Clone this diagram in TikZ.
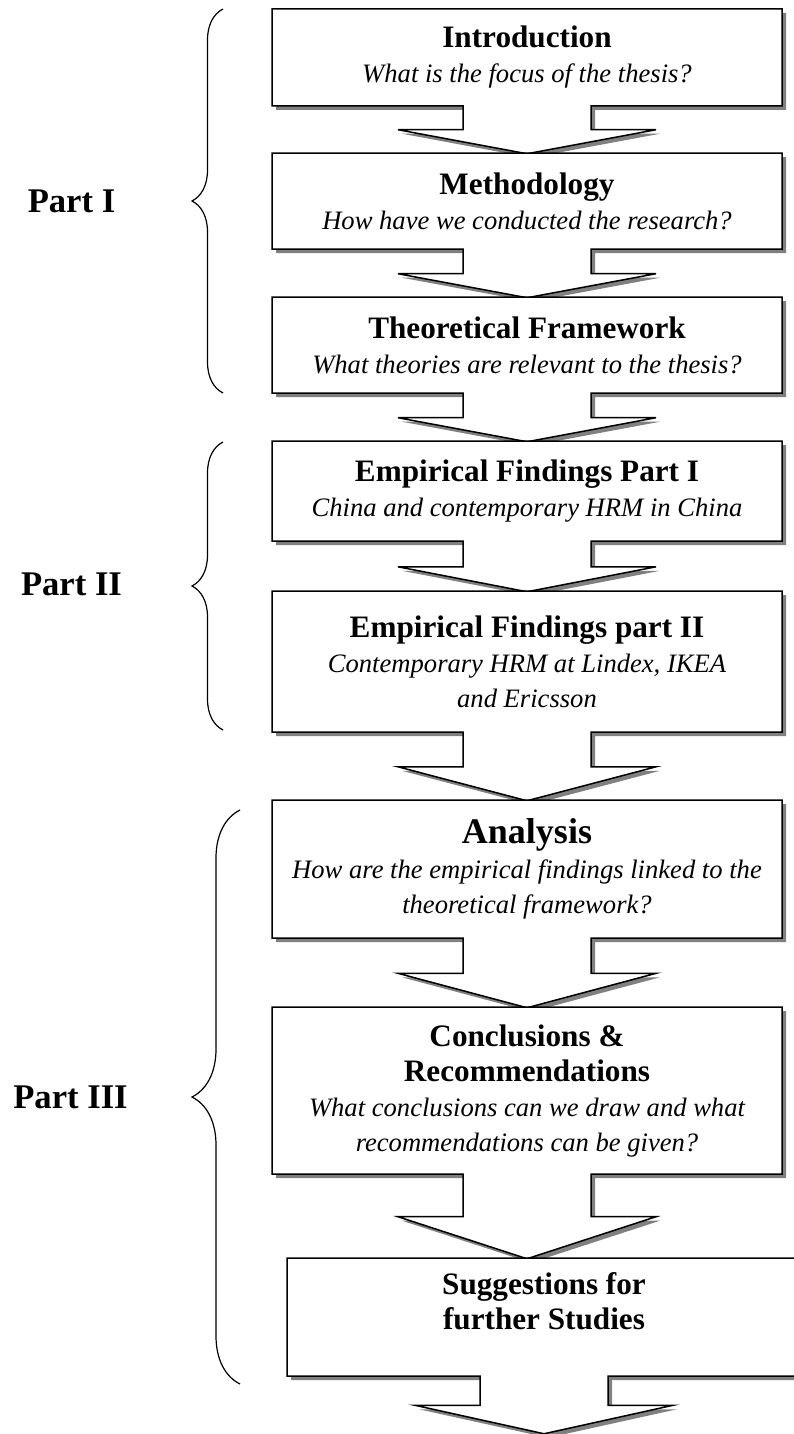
\documentclass[tikz,border=0pt]{standalone}
\usepackage{fontspec}
\setmainfont{Liberation Serif}
\usepackage{tikz}
\usetikzlibrary{shapes.arrows, shadows, decorations.pathreplacing}

\newcommand{\stagetitle}{\fontsize{15.6}{17.5}\selectfont\bfseries}
\newcommand{\bigtitle}{\fontsize{18}{17.5}\selectfont\bfseries}
\newcommand{\stagequestion}{\fontsize{13.3}{17.5}\selectfont\mdseries\itshape}

\tikzset{
    stage/.style={arrow box, draw=black, line width=0.75pt, fill=white,
        minimum width=255pt, inner sep=0pt, align=center,
        font=\fontsize{13.3}{17.5}\selectfont,
        arrow box shaft width=64pt, arrow box head extend=32.5pt,
        drop shadow={shadow xshift=2pt, shadow yshift=-2pt, fill=black!50, opacity=1}},
    partlabel/.style={anchor=base, font=\fontsize{17.3}{20}\selectfont\bfseries},
    partbrace/.style={decorate, decoration={brace, amplitude=#1}, line width=0.6pt}
}

\begin{document}
\begin{tikzpicture}[x=0.5pt, y=-0.5pt]
    \useasboundingbox (0, 0) rectangle (793, 1434);
    \node[stage, minimum height=48.5pt, arrow box arrows={south:23.5pt}, arrow box tip angle=158.9] (intro) at (527, 57.5)
        {\stagetitle Introduction\\ \stagequestion What is the focus of the thesis?};
    \node[stage, minimum height=48pt, arrow box arrows={south:24pt}, arrow box tip angle=158.9] (method) at (527, 201)
        {\stagetitle Methodology\\ \stagequestion How have we conducted the research?};
    \node[stage, minimum height=48pt, arrow box arrows={south:24pt}, arrow box tip angle=158.9] (theory) at (527, 345)
        {\stagetitle Theoretical Framework\\ \stagequestion What theories are relevant to the thesis?};
    \node[stage, minimum height=50pt, arrow box arrows={south:25pt}, arrow box tip angle=158.1] (empone) at (527, 491)
        {\stagetitle Empirical Findings Part I\\ \stagequestion China and contemporary HRM in China};
    \node[stage, minimum height=70.5pt, arrow box arrows={south:34pt}, arrow box tip angle=150.5] (emptwo) at (527, 661.5)
        {\stagetitle Empirical Findings part II\\ \stagequestion Contemporary HRM at Lindex, IKEA\\ \stagequestion and Ericsson};
    \node[stage, minimum height=69pt, arrow box arrows={south:34.5pt}, arrow box tip angle=150.1] (analysis) at (527, 869)
        {\bigtitle Analysis\\ \stagequestion How are the empirical findings linked to the\\ \stagequestion theoretical framework?};
    \node[stage, minimum height=83.5pt, arrow box arrows={south:42pt}, arrow box tip angle=143.9] (concl) at (527, 1090.5)
        {\stagetitle Conclusions \&\\ \stagetitle Recommendations\\ \stagequestion What conclusions can we draw and what\\ \stagequestion recommendations can be given?};
    \node[stage, minimum width=257pt, minimum height=59pt, text depth=16pt, arrow box arrows={south:28.5pt}, arrow box tip angle=155.1] (further) at (544, 1317)
        {\stagetitle Suggestions for\\ \stagetitle further Studies};
    % parts
    \node[partlabel] (partone) at (71.5, 212) {Part I};
    \node[partlabel] (parttwo) at (71.5, 595) {Part II};
    \node[partlabel] (partthree) at (70.5, 1108) {Part III};
    \draw[partbrace=15.5pt] (223, 393) -- (223, 9);
    \draw[partbrace=15.5pt] (223, 730) -- (223, 442);
    \draw[partbrace=24pt] (240, 1384) -- (240, 810);
\end{tikzpicture}
\end{document}
